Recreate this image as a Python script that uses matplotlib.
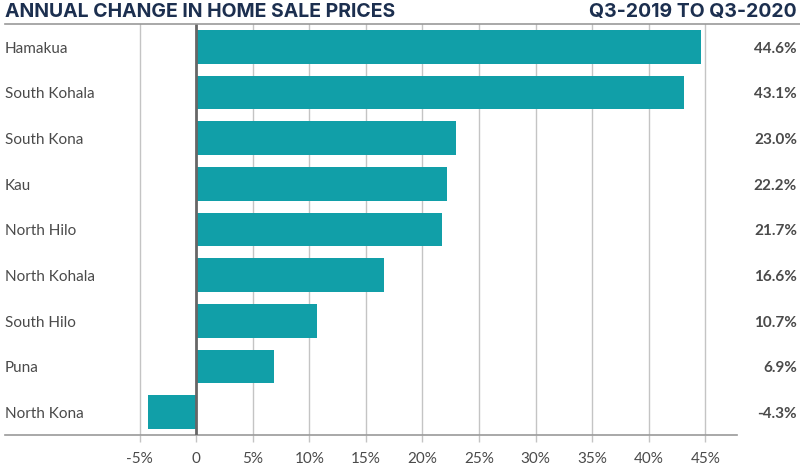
import matplotlib
matplotlib.use("Agg")
import matplotlib.pyplot as plt
from matplotlib.lines import Line2D
import matplotlib.transforms as mtransforms

areas = ["Hamakua", "South Kohala", "South Kona", "Kau", "North Hilo",
         "North Kohala", "South Hilo", "Puna", "North Kona"]
changes = [44.6, 43.1, 23.0, 22.2, 21.7, 16.6, 10.7, 6.9, -4.3]
ticks = [-5, 0, 5, 10, 15, 20, 25, 30, 35, 40, 45]
tick_labels = ["-5%", "0", "5%", "10%", "15%", "20%", "25%", "30%", "35%", "40%", "45%"]

bar_color = "#119fa8"
title_color = "#1c2f4f"
text_color = "#4a4a4a"
grid_color = "#c4c4c4"

plt.rcParams['font.family'] = ['Lato', 'DejaVu Sans']

W, H = 800, 476
fig = plt.figure(figsize=(W / 100, H / 100), dpi=100)
ax = fig.add_axes([5 / W, (H - 435) / H, (737 - 5) / W, (435 - 24) / H])

ypos = list(range(len(areas)))
ax.barh(ypos, changes, height=0.73, color=bar_color, zorder=2)
ax.set_ylim(len(areas) - 0.5, -0.5)
ax.set_xlim(-16.9, 47.8)

ax.set_xticks(ticks)
ax.set_xticklabels(tick_labels, fontsize=11, color=text_color)
ax.set_yticks([])
ax.tick_params(axis='x', length=5, width=1, color=grid_color, pad=7)
for t in ticks:
    if t != 0:
        ax.axvline(t, color=grid_color, linewidth=1, zorder=1)
ax.axvline(0, color="#666666", linewidth=2, zorder=3)

for s in ["top", "left", "right"]:
    ax.spines[s].set_visible(False)
ax.spines["bottom"].set_color("#999999")
ax.spines["bottom"].set_linewidth(1.2)

# category names on the left, values on the right
trans_left = mtransforms.blended_transform_factory(fig.transFigure, ax.transData)
for i, (name, v) in enumerate(zip(areas, changes)):
    ax.text(5 / W, i + 0.04, name, transform=trans_left, ha="left", va="center",
            fontsize=11, color=text_color)
    ax.text(797 / W, i + 0.04, f"{v:.1f}%", transform=trans_left, ha="right", va="center",
            fontsize=11, color=text_color, fontweight="bold")

title_font = ['Inter', 'DejaVu Sans']
fig.text(5 / W, (H - 12) / H, "ANNUAL CHANGE IN HOME SALE PRICES", ha="left", va="center",
         fontsize=14, fontweight="bold", color=title_color, family=title_font)
fig.text(797 / W, (H - 12) / H, "Q3-2019 TO Q3-2020", ha="right", va="center",
         fontsize=14, fontweight="bold", color=title_color, family=title_font)
fig.add_artist(Line2D([5 / W, 1], [(H - 24) / H] * 2, color="#999999", linewidth=1.2,
                      transform=fig.transFigure))

fig.savefig("out.png", dpi=100)
